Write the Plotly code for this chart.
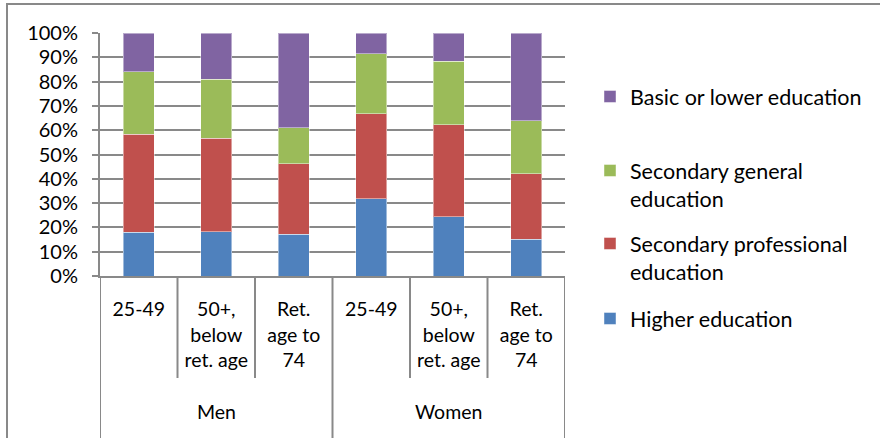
import plotly.graph_objects as go

# Population shares by education level, by sex and age group (stacked to 100%)
sex_groups = ["Men", "Men", "Men", "Women", "Women", "Women"]
age_groups = ["25-49", "50+,<br>below<br>ret. age", "Ret.<br>age to<br>74",
              "25-49", "50+,<br>below<br>ret. age", "Ret.<br>age to<br>74"]

higher = [18.0, 18.3, 17.2, 31.7, 24.4, 15.1]
secondary_professional = [40.4, 38.3, 28.9, 35.0, 37.8, 26.9]
secondary_general = [25.7, 24.4, 15.0, 24.8, 26.1, 21.9]
basic_or_lower = [15.9, 19.0, 38.9, 8.5, 11.7, 36.1]

series = [
    ("Higher education", higher, "#4F81BD", "legend4"),
    ("Secondary professional<br>education", secondary_professional, "#C0504D", "legend3"),
    ("Secondary general<br>education", secondary_general, "#9BBB59", "legend2"),
    ("Basic or lower education", basic_or_lower, "#8064A2", "legend"),
]

FONT = "Lato"
GRID = "#898989"
positions = list(range(len(age_groups)))

fig = go.Figure()
for name, vals, color, leg in series:
    fig.add_trace(go.Bar(
        x=positions,
        y=vals,
        name=name,
        legend=leg,
        marker=dict(color=color, line=dict(color="rgba(255,255,255,0.45)", width=1)),
    ))

W, H = 880, 438
left, right, top, bottom = 100, 565, 33, 276


def py(px):
    # pixel row -> paper y
    return (bottom - px) / (bottom - top)


def px_x(px):
    return (px - left) / (right - left)


shapes = []
# chart outer frame
shapes.append(dict(type="rect", xref="paper", yref="paper",
                   x0=px_x(7), x1=px_x(900), y0=py(460), y1=py(4),
                   line=dict(color=GRID, width=2), fillcolor="rgba(0,0,0,0)", layer="below"))

# separators: short ones between age groups, long ones at sex group edges
annotations = []
groups = []
for i, g in enumerate(sex_groups):
    if not groups or groups[-1][0] != g:
        groups.append([g, i, i])
    else:
        groups[-1][2] = i
for i in range(len(positions) + 1):
    xv = i - 0.5
    is_edge = any(xv == s - 0.5 or xv == e + 0.5 for _, s, e in groups)
    shapes.append(dict(type="line", xref="x", yref="paper", x0=xv, x1=xv,
                       y0=0, y1=py(442 if is_edge else 378),
                       line=dict(color=GRID, width=2)))
for g, s, e in groups:
    annotations.append(dict(text=g, x=(s + e) / 2, xref="x", y=py(411), yref="paper",
                            showarrow=False, xanchor="center", yanchor="middle",
                            font=dict(family=FONT, size=19.5, color="#000000")))

legend_style = dict(xref="container", yref="container", xanchor="left", yanchor="top",
                    font=dict(family=FONT, size=21.5, color="#000000"), valign="top",
                    bgcolor="rgba(0,0,0,0)", borderwidth=0)
legend_tops = {"legend": 76, "legend2": 150, "legend3": 223, "legend4": 298}
legends = {k: dict(legend_style, x=590 / W, y=1 - v / H) for k, v in legend_tops.items()}

fig.update_layout(
    width=W, height=H,
    margin=dict(l=left, r=W - right, t=top, b=H - bottom),
    barmode="stack",
    bargap=0.6,
    paper_bgcolor="white",
    plot_bgcolor="white",
    font=dict(family=FONT, size=19.5, color="#000000"),
    showlegend=True,
    shapes=shapes,
    annotations=annotations,
    **legends,
)

fig.update_yaxes(
    range=[0, 100], tickvals=[0, 10, 20, 30, 40, 50, 60, 70, 80, 90, 100],
    ticktext=[f"{v}%" for v in range(0, 101, 10)],
    showgrid=True, gridcolor=GRID, gridwidth=2,
    showline=True, linecolor=GRID, linewidth=2,
    ticks="outside", ticklen=6, tickcolor=GRID, tickwidth=2,
    ticklabelstandoff=10, zeroline=False,
    tickfont=dict(family=FONT, size=20, color="#000000"),
)
fig.update_xaxes(
    range=[-0.5, len(positions) - 0.5],
    tickvals=positions, ticktext=age_groups,
    showline=True, linecolor=GRID, linewidth=2,
    ticks="", showgrid=False, zeroline=False,
    tickfont=dict(family=FONT, size=19.5, color="#000000"),
    ticklabelstandoff=15,
)

fig.write_html("out.html")
